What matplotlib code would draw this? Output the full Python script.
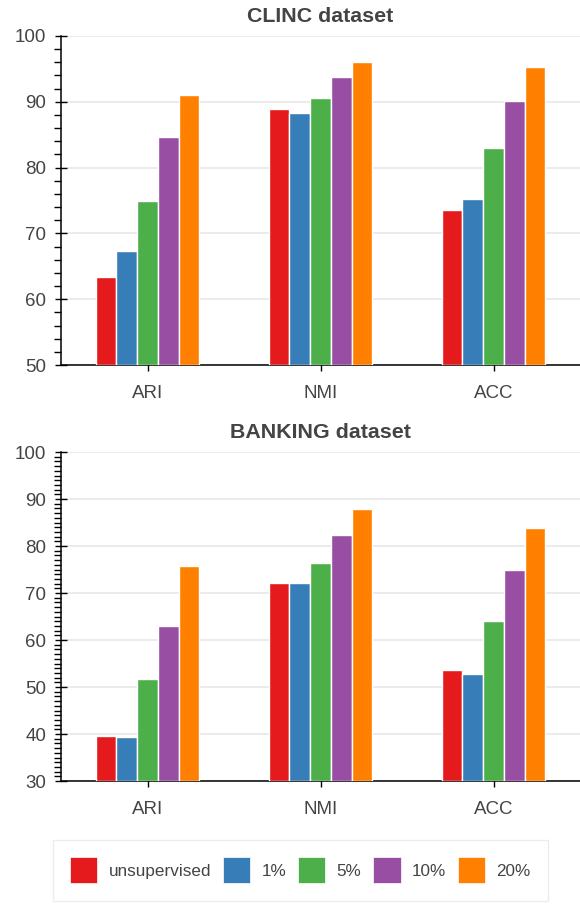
import matplotlib
matplotlib.use('Agg')
import matplotlib.pyplot as plt
import numpy as np
from matplotlib.patches import Patch
from matplotlib.ticker import MultipleLocator

plt.rcParams['font.family'] = ['Liberation Sans', 'DejaVu Sans']

metrics = ['ARI', 'NMI', 'ACC']
settings = ['unsupervised', '1%', '5%', '10%', '20%']
colors = ['#e41a1c', '#377eb8', '#4daf4a', '#984ea3', '#ff7f00']

# rows = settings, columns = metrics
clinc = [
    [63.3, 88.9, 73.5],
    [67.3, 88.3, 75.2],
    [74.9, 90.6, 83.0],
    [84.6, 93.7, 90.1],
    [91.1, 96.0, 95.3],
]
banking = [
    [39.6, 72.1, 53.6],
    [39.4, 72.2, 52.8],
    [51.6, 76.3, 64.0],
    [62.9, 82.3, 74.8],
    [75.8, 87.9, 83.9],
]

text_col = '#444444'
W, H = 580, 905
fig = plt.figure(figsize=(W / 100, H / 100), dpi=100)


def panel(rect, data, title, ymin, minor):
    ax = fig.add_axes(rect)
    x = np.arange(len(metrics)) + 0.5
    bw = 0.12
    for i, (vals, c) in enumerate(zip(data, colors)):
        ax.bar(x + (i - 2) * bw, np.array(vals) - ymin, bottom=ymin, width=bw,
               color=c, edgecolor='white', linewidth=1.0, zorder=3)
    ax.set_xlim(0, 3)
    ax.set_ylim(ymin, 100)
    ax.set_xticks(x)
    ax.set_xticklabels(metrics)
    ax.yaxis.set_major_locator(MultipleLocator(10))
    ax.yaxis.set_minor_locator(MultipleLocator(minor))
    ax.grid(axis='y', which='major', color='#e5e5e5', linewidth=1.1, zorder=0)
    ax.set_axisbelow(True)
    for s in ['top', 'right']:
        ax.spines[s].set_visible(False)
    for s in ['left', 'bottom']:
        ax.spines[s].set_linewidth(1.1)
        ax.spines[s].set_color('black')
    ax.tick_params(axis='y', which='major', direction='inout', length=9, width=1.0,
                   labelsize=13.5, labelcolor=text_col, pad=6)
    ax.tick_params(axis='y', which='minor', direction='out', length=5, width=1.0)
    ax.tick_params(axis='x', which='major', direction='inout', length=9, width=1.0,
                   labelsize=13.5, labelcolor=text_col, pad=10)
    ax.set_title(title, fontsize=15.4, fontweight='bold', color=text_col, pad=10)
    return ax


panel([61 / W, 1 - 365 / H, 519 / W, 329 / H], clinc, 'CLINC dataset', 50, 2)
panel([61 / W, 1 - 781 / H, 519 / W, 329 / H], banking, 'BANKING dataset', 30, 1)

handles = [Patch(facecolor=c, edgecolor='white', linewidth=0.5) for c in colors]
leg = fig.legend(handles, settings, loc='upper left', bbox_to_anchor=(53 / W, 1 - 840 / H),
                 ncol=5, fontsize=12.3, frameon=True, fancybox=False,
                 handlelength=1.6, handleheight=2.0, handletextpad=0.65,
                 columnspacing=0.7, borderpad=1.0, borderaxespad=0)
leg.get_frame().set_edgecolor('#e8e8e8')
leg.get_frame().set_linewidth(1.0)
for t in leg.get_texts():
    t.set_color(text_col)

fig.savefig('out.png', dpi=100)
